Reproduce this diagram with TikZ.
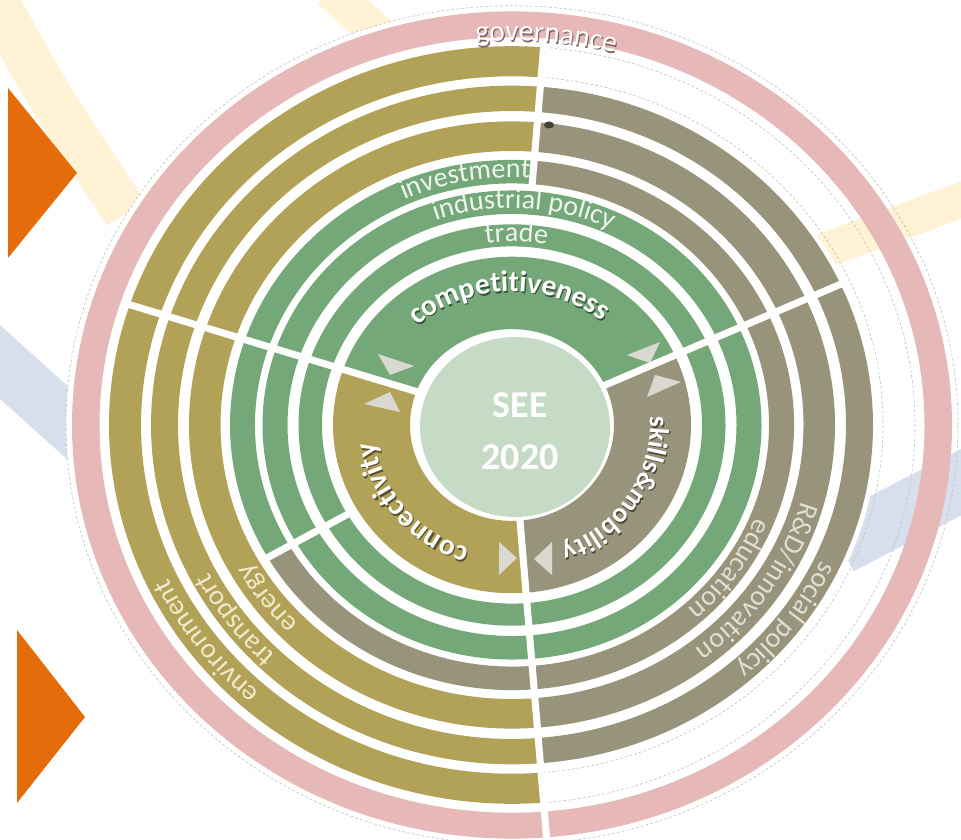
\documentclass[tikz,border=0pt]{standalone}
\usepackage{fontspec}
\setmainfont{Carlito}
\usepackage{xcolor}
\usepackage{tikz}
\definecolor{cpink}{HTML}{E6B8B7}
\definecolor{colive}{HTML}{B1A258}
\definecolor{cgray}{HTML}{98937B}
\definecolor{cgreen}{HTML}{75A878}
\definecolor{ccore}{HTML}{C6DBC6}
\definecolor{ctri}{HTML}{D9D9D1}
\definecolor{cyel}{HTML}{FFF2D5}
\definecolor{cblue}{HTML}{D7DFEC}
\definecolor{corange}{HTML}{E46C0A}
\definecolor{cdash}{HTML}{BDBDBD}
\definecolor{txtlight}{HTML}{EEF3EE}
\definecolor{txtolive}{HTML}{F0EACB}
\definecolor{txtgray}{HTML}{E2DFD2}
\font\labfont="Carlito" at 20pt
\font\govfont="Carlito" at 21pt
\font\keyfont="Carlito/B" at 21pt
\font\skillfont="Carlito/B" at 19.5pt
\newbox\arcbox
% text set letter by letter on a clockwise arc, tops outward
% #1 radius, #2 centre angle, #3 format, #4 text
\makeatletter
\newcommand{\arclabel}[4]{%
  \setbox\arcbox\hbox{#3#4}\edef\arcw{\strip@pt\wd\arcbox}%
  \pgfmathsetmacro{\arcspeed}{#1*7.11319*sqrt((sin(#2))^2+(0.94*cos(#2))^2)*pi/180}%
  \pgfmathsetmacro{\arcang}{#2+\arcw/2/\arcspeed}%
  \@tfor\arcch:=#4\do{%
    \setbox\arcbox\hbox{#3\arcch}\edef\arcw{\strip@pt\wd\arcbox}%
    \pgfmathsetmacro{\arcmid}{\arcang-\arcw/2/\arcspeed}%
    \pgfmathsetmacro{\arcrot}{atan2(-0.94*cos(\arcmid),sin(\arcmid))}%
    \node[inner sep=0pt, anchor=base, rotate=\arcrot] at (\arcmid:#1) {#3\arcch};%
    \pgfmathsetmacro{\arcang}{\arcang-\arcw/\arcspeed}%
  }%
}
\makeatother
\tikzset{
  band/.style={line width=#1},
  cut/.style={draw=white, line width=5pt},
  dashline/.style={draw=cdash, line width=0.4pt, dash pattern=on 2pt off 1.5pt},
  pointer/.style={fill=ctri},
  flag/.style={fill=corange},
  core/.style={font=\fontsize{27pt}{30pt}\selectfont\bfseries, text=white},
}

\begin{document}
\begin{tikzpicture}[scale=0.25]
  \useasboundingbox (0,0) rectangle (96.1,83.9);
  \clip (0,0) rectangle (96.1,83.9);
  % background bands
  \draw[cyel, band=32pt] (-0.8,84.5) .. controls (5,74) .. (12.6,62.6);
  \draw[cyel, band=26pt] (33,84.9) -- (38.5,79.9);
  \draw[cblue, band=39pt] (-2,49.5) -- (10,38.7);
  \fill[white] (51.2,41.4) ellipse[x radius=44.6, y radius=41.9];
  \draw[cyel, band=25pt] (97.5,64.4) -- (82,58.7);
  \draw[cblue, band=42pt] (97.5,36.4) -- (84,29.4);
  \fill[white] (51.2,41.4) ellipse[x radius=36.6, y radius=34.4];
  % orange markers
  \fill[flag] (0.8,75.1) -- (0.8,58.1) -- (7.7,66.6) -- cycle;
  \fill[flag] (1.7,20.9) -- (1.7,3.6) -- (8.5,12.2) -- cycle;

  \begin{scope}[shift={(51.2,41.4)}, yscale=0.94]
    % governance ring
    \fill[cpink, even odd rule] (0,0) circle (44) (0,0) circle (41.25);
    % colour/start/end/inner/outer
    \foreach \col/\sa/\sb/\ri/\ro in {
        cgreen/24.5/160.5/10.2/17.9, colive/160.5/274.5/10.2/17.9, cgray/274.5/384.5/10.2/17.9,
        cgreen/0/360/19/21.35, cgreen/0/360/22.45/24.95,
        cgreen/85.5/210/25.7/28.2, cgray/210/445.5/25.7/28.2,
        colive/85.5/274.5/29.15/32.3, cgray/274.5/445.5/29.15/32.3,
        colive/85.5/274.5/33.4/36.1, cgray/274.5/445.5/33.4/36.1,
        colive/85.5/274.5/37.1/40.3}
      \fill[\col] (\sa:\ro) arc[start angle=\sa, end angle=\sb, radius=\ro]
        -- (\sb:\ri) arc[start angle=\sb, end angle=\sa, radius=\ri] -- cycle;
    \draw[dashline] (-85.5:40.3) arc[start angle=-85.5, end angle=85.5, radius=40.3]
      -- (85.5:37.1) arc[start angle=85.5, end angle=-85.5, radius=37.1] -- cycle;
    \draw[dashline] (0,0) circle (44.6);
    % dividers
    \draw[cut] (85.5:25.5) -- (85.5:40.7);
    \draw[cut] (274.5:9.8) -- (274.5:44.5);
    \draw[cut] (159.5:9.8) -- (161.5:40.8);
    \draw[cut] (24.5:9.8) -- (24.5:36.6);
    \draw[cut] (210:18.5) -- (210:28.6);
    % ring labels
    \begin{scope}[shift={(0.12,-0.16)}]
      \arclabel{40.9}{85.3}{\govfont\color{cpink!55!black}}{governance}
    \end{scope}
    \arclabel{40.9}{85.3}{\govfont\color{white}}{governance}
    \arclabel{26.3}{100.3}{\labfont\color{txtlight}}{investment}
    \arclabel{23.05}{87}{\labfont\color{txtlight}}{industrial~policy}
    \arclabel{19.5}{88.8}{\labfont\color{txtlight}}{trade}
    \arclabel{30.05}{217}{\labfont\color{txtolive}}{energy}
    \arclabel{34.1}{216.7}{\labfont\color{txtolive}}{transport}
    \arclabel{38.05}{217}{\labfont\color{txtolive}}{environment}
    \arclabel{26.3}{-35}{\labfont\color{txtgray}}{education}
    \arclabel{30.05}{-34}{\labfont\color{txtgray}}{R\&D/innovation}
    \arclabel{34.1}{-37}{\labfont\color{txtgray}}{social~policy}
    % pillar labels
    \begin{scope}[shift={(0.12,-0.16)}]
      \arclabel{14.2}{91.5}{\keyfont\color{cgreen!50!black}}{competitiveness}
      \arclabel{13.8}{220}{\keyfont\color{colive!50!black}}{connectivity}
      \arclabel{13.8}{-33}{\skillfont\color{cgray!50!black}}{skills\&mobility}
    \end{scope}
    \arclabel{14.2}{91.5}{\keyfont\color{white}}{competitiveness}
    \arclabel{13.8}{220}{\keyfont\color{white}}{connectivity}
    \arclabel{13.8}{-33}{\skillfont\color{white}}{skills\&mobility}
  \end{scope}

  % centre
  \fill[ccore] (51.5,41.2) ellipse[x radius=9.5, y radius=9];
  \node[core] (see) at (52,43.4) {SEE};
  \node[core] (year) at (52,38.2) {2020};
  % direction marks
  \fill[pointer] (41.4,47.3) -- (37.8,48.5) -- (39,46.4) -- cycle;
  \fill[pointer] (36.4,43.5) -- (39,44.7) -- (40,42.7) -- cycle;
  \fill[pointer] (62.7,48.4) -- (66,49.7) -- (65,47.6) -- cycle;
  \fill[pointer] (68.1,45.7) -- (65.5,46.4) -- (64.7,44.2) -- cycle;
  \fill[pointer] (49.9,29.7) -- (49.9,26.4) -- (51.7,28.1) -- cycle;
  \fill[pointer] (55.2,29.7) -- (55.2,26.4) -- (53.4,28) -- cycle;
  \fill[cgray!45!black] (54.9,71.4) ellipse[x radius=0.5, y radius=0.35];
\end{tikzpicture}
\end{document}
